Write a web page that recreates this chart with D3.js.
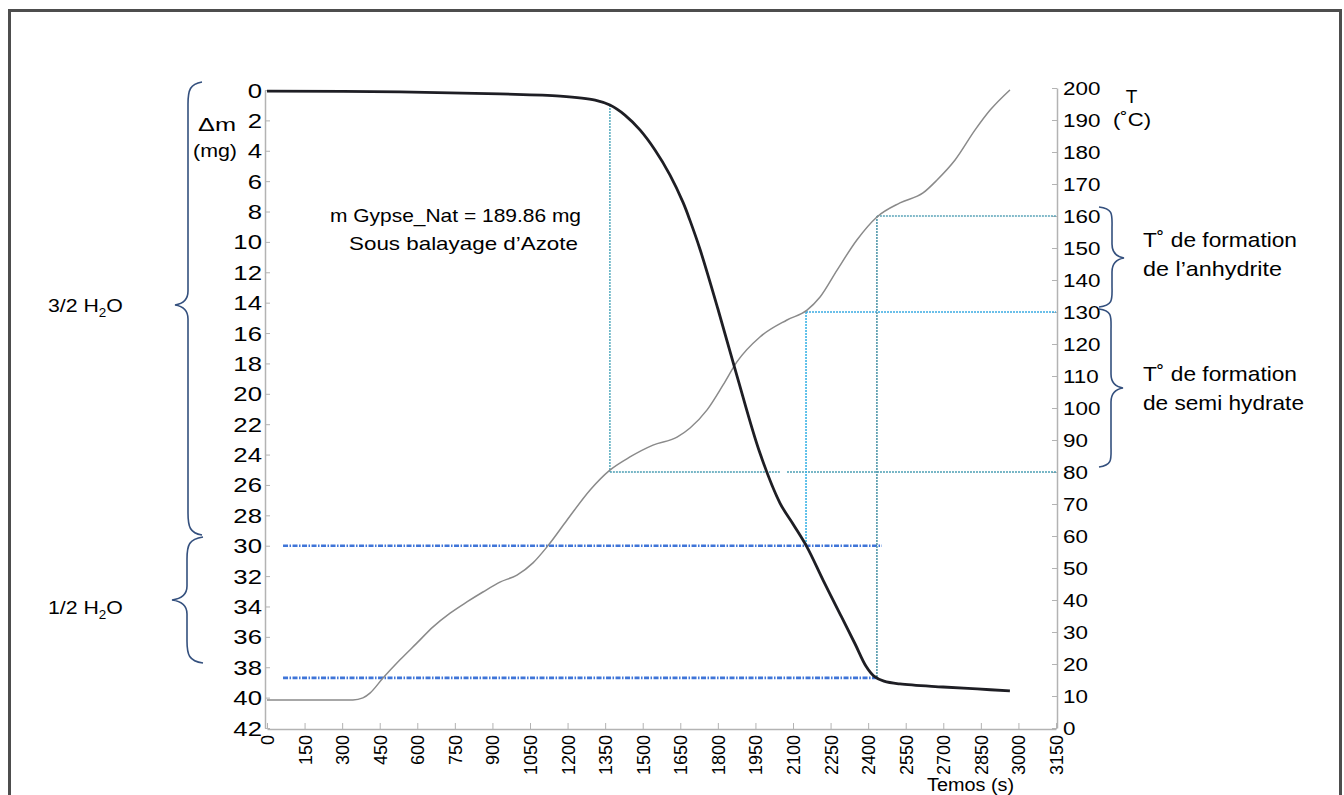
<!DOCTYPE html>
<html>
<head>
<meta charset="utf-8">
<script src="https://cdn.jsdelivr.net/npm/d3@7/dist/d3.min.js"></script>
<style>
  html, body { margin: 0; padding: 0; background: #fff; }
  svg { display: block; font-family: "Liberation Sans", Arial, sans-serif; }
</style>
</head>
<body>
<svg id="chart" width="1344" height="795"></svg>
<script>
// Thermogravimetric run of natural gypsum under nitrogen sweep
// Mass loss (mg) versus time (s)
const timeMass = [0, 531, 930, 1170, 1310, 1369, 1429, 1489, 1549, 1609, 1661, 1689, 1729, 1800, 1876, 1968, 2048, 2100, 2156, 2220, 2288, 2348, 2391, 2423, 2463, 2527, 2699, 2835, 2966];
const massLoss = [0.07, 0.13, 0.26, 0.40, 0.66, 0.99, 1.65, 2.63, 3.95, 5.6, 7.4, 8.6, 10.5, 14.4, 18.8, 23.9, 27.19, 28.57, 30.09, 32.26, 34.5, 36.47, 37.92, 38.58, 38.91, 39.1, 39.3, 39.43, 39.56];

// Furnace temperature (°C) versus time (s)
const timeTemp = [0, 343, 383, 411, 463, 531, 599, 663, 731, 798, 862, 930, 998, 1062, 1118, 1198, 1290, 1369, 1449, 1541, 1637, 1689, 1757, 1821, 1876, 1968, 2076, 2156, 2208, 2276, 2355, 2435, 2527, 2619, 2675, 2747, 2827, 2887, 2966];
const temperature = [8.75, 8.75, 9.4, 10.9, 15.6, 21.3, 26.6, 31.6, 35.9, 39.4, 42.5, 45.6, 47.8, 51.6, 56.6, 65.0, 74.4, 80.6, 84.7, 88.4, 90.9, 93.75, 99.4, 107.2, 114.4, 122.2, 127.5, 130.6, 134.7, 143.1, 152.5, 159.7, 164.1, 167.2, 171.25, 177.5, 186.9, 193.1, 199.4];

// Tick values
const timeTicks = d3.range(0, 3151, 150);
const massTicks = d3.range(0, 43, 2);
const tempTicks = d3.range(0, 201, 10);

// Transition markers: times, temperatures and mass levels
const markerTimes = [1369, 2152, 2435];
const markerTemps = [80, 130, 160];
const markerMass = [30, 38.7];
const levelStartTime = 64;

const svg = d3.select("#chart");

// outer frame
svg.append("rect")
  .attr("x", 9.5).attr("y", 10.5).attr("width", 1331).attr("height", 820)
  .attr("fill", "none").attr("stroke", "#4d4d4d").attr("stroke-width", 3);

const x = d3.scaleLinear().domain([0, 3150]).range([267, 1056]);
const yM = d3.scaleLinear().domain([0, 42]).range([90, 728]);
const yT = d3.scaleLinear().domain([0, 200]).range([728, 88]);

const axisColor = "#b3b3b3";

// left axis (mass)
const gL = svg.append("g").attr("transform", "translate(265,0)")
  .call(d3.axisLeft(yM).tickValues(massTicks).tickSizeInner(-5).tickSizeOuter(0).tickPadding(0));
gL.select(".domain").attr("stroke", axisColor).attr("stroke-width", 1.5);
gL.selectAll(".tick line").attr("stroke", axisColor);
gL.selectAll(".tick text")
  .attr("font-size", 19.5).attr("fill", "#000")
  .attr("transform", "scale(1.32,1)").attr("x", -3 / 1.32).attr("dy", "0.36em");

// right axis (temperature)
const gR = svg.append("g").attr("transform", "translate(1057,0)")
  .call(d3.axisRight(yT).tickValues(tempTicks).tickSizeInner(-5).tickSizeOuter(0).tickPadding(0));
gR.select(".domain").attr("stroke", axisColor).attr("stroke-width", 1.5);
gR.selectAll(".tick line").attr("stroke", axisColor);
gR.selectAll(".tick text")
  .attr("font-size", 19).attr("fill", "#000")
  .attr("transform", "scale(1.18,1)").attr("x", 6 / 1.18).attr("dy", "0.36em");

// bottom axis (time)
const gB = svg.append("g").attr("transform", "translate(0,729)")
  .call(d3.axisBottom(x).tickValues(timeTicks).tickFormat(d3.format("d"))
    .tickSizeInner(-6).tickSizeOuter(0).tickPadding(0));
gB.select(".domain").attr("stroke", axisColor).attr("stroke-width", 1.5);
gB.selectAll(".tick line").attr("stroke", axisColor);
gB.selectAll(".tick text")
  .attr("font-size", 18).attr("fill", "#000")
  .attr("transform", "rotate(-90)")
  .attr("text-anchor", "end")
  .attr("x", -6).attr("y", 0).attr("dy", "0.36em");

// horizontal mass levels (dash-dot blue)
markerMass.forEach((m, i) => {
  const tEnd = i === 0 ? 2455 : markerTimes[2];
  svg.append("line")
    .attr("x1", x(levelStartTime)).attr("x2", x(tEnd))
    .attr("y1", yM(m)).attr("y2", yM(m))
    .attr("stroke", "#3f75d8").attr("stroke-width", 2.6)
    .attr("stroke-dasharray", "5,1.5,1.5,1.5");
});

const dotted = (x1, y1, x2, y2, color, w) => svg.append("line")
  .attr("x1", x1).attr("y1", y1).attr("x2", x2).attr("y2", y2)
  .attr("stroke", color).attr("stroke-width", w || 1.6)
  .attr("stroke-dasharray", "2,1");

// first transition: start of dehydration, 80 °C
dotted(x(markerTimes[0]), yM(0.99), x(markerTimes[0]), yT(markerTemps[0]), "#5fb0c2");
dotted(x(markerTimes[0]), yT(markerTemps[0]), x(2048), yT(markerTemps[0]), "#4c9fb4");
dotted(x(2076), yT(markerTemps[0]), x(3150), yT(markerTemps[0]), "#4c9fb4");
// semi-hydrate formation, 130 °C
dotted(x(markerTimes[1]), yT(markerTemps[1]), x(markerTimes[1]), yM(markerMass[0]), "#3db4e6");
dotted(x(markerTimes[1]), yT(markerTemps[1]), x(3150), yT(markerTemps[1]), "#38aae2");
// anhydrite formation, 160 °C
dotted(x(markerTimes[2]), yT(markerTemps[2]), x(markerTimes[2]), yM(markerMass[1]), "#5198ab");
dotted(x(markerTimes[2]), yT(markerTemps[2]), x(3150), yT(markerTemps[2]), "#5ba4b9");

// temperature curve
const tempLine = d3.line().x((d, i) => x(timeTemp[i])).y(d => yT(d)).curve(d3.curveMonotoneX);
svg.append("path").datum(temperature)
  .attr("d", tempLine).attr("fill", "none")
  .attr("stroke", "#8a8a8a").attr("stroke-width", 1.5);

// mass-loss curve
const massLine = d3.line().x((d, i) => x(timeMass[i])).y(d => yM(d)).curve(d3.curveCatmullRom.alpha(0.5));
svg.append("path").datum(massLoss)
  .attr("d", massLine).attr("fill", "none")
  .attr("stroke", "#1e1e24").attr("stroke-width", 2.8);

// text helper with fixed rendered width
function label(str, px, py, size, width, anchor) {
  const t = svg.append("text")
    .attr("x", px).attr("y", py)
    .attr("font-size", size).attr("fill", "#000")
    .attr("text-anchor", anchor || "start")
    .text(str);
  if (width) t.attr("textLength", width).attr("lengthAdjust", "spacingAndGlyphs");
  return t;
}

label("m Gypse_Nat = 189.86 mg", 330, 222, 19, 251);
label("Sous balayage d\u2019Azote", 349, 250, 19, 229);

label("T\u02DA de formation", 1143, 247, 21, 154);
label("de l\u2019anhydrite", 1143, 276, 21, 139);
label("T\u02DA de formation", 1143, 381, 21, 154);
label("de semi hydrate", 1143, 410, 21, 161);

label("\u0394m", 198, 131, 19, 38);
label("(mg)", 193, 157, 19, 44);
label("T", 1131.5, 103, 19, null, "middle");
label("(\u02DAC)", 1113, 126, 19, 38);
label("Temos (s)", 927, 791, 18, 87);

// hydration-water labels with subscript
function waterLabel(prefix, px, py) {
  const g = svg.append("g").attr("transform", `translate(${px},${py}) scale(1.12,1)`);
  const t = g.append("text").attr("font-size", 19).attr("fill", "#000");
  t.append("tspan").text(prefix + " H");
  t.append("tspan").attr("font-size", 12).attr("dy", 5).text("2");
  t.append("tspan").attr("dy", -5).text("O");
}
waterLabel("3/2", 48, 312);
waterLabel("1/2", 48, 614);

// curly braces
function brace(top, bottom, tip, spine, endX, tipX) {
  const r = 14;
  const d = `M${endX},${top} C${spine + 2},${top + 2} ${spine},${top + 8} ${spine},${top + r + 8}`
    + ` L${spine},${tip - r} C${spine},${tip - 4} ${(spine + tipX) / 2},${tip - 1} ${tipX},${tip}`
    + ` C${(spine + tipX) / 2},${tip + 1} ${spine},${tip + 4} ${spine},${tip + r}`
    + ` L${spine},${bottom - r - 8} C${spine},${bottom - 8} ${spine + 2},${bottom - 2} ${endX},${bottom}`;
  svg.append("path").attr("d", d).attr("fill", "none")
    .attr("stroke", "#34507e").attr("stroke-width", 1.6);
}
brace(82, 535, 305, 188, 202, 175);
brace(537, 663, 600, 187, 203, 172);
brace(207, 307, 258, 1112, 1099, 1124);
brace(309, 467, 388, 1111, 1099, 1123);
</script>
</body>
</html>
